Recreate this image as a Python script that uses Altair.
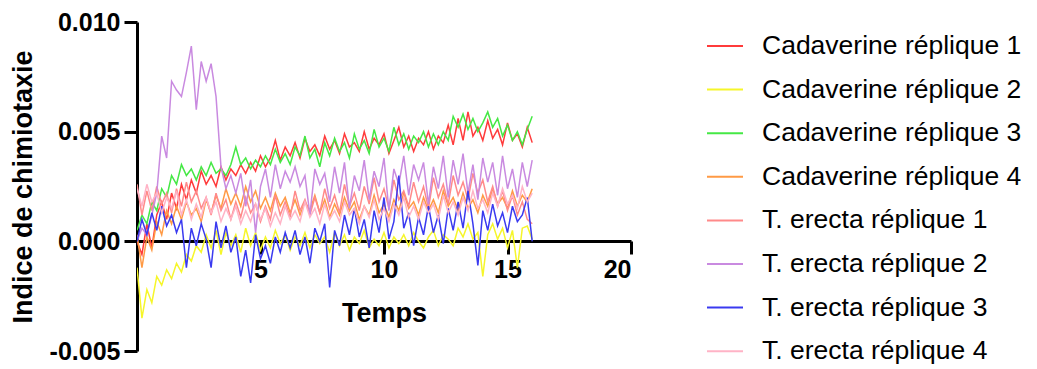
import altair as alt
import pandas as pd

# time grid (minutes, step 0.2)
TIME = [round(i * 0.2, 1) for i in range(81)]

SERIES = [
    "Cadaverine réplique 1",
    "Cadaverine réplique 2",
    "Cadaverine réplique 3",
    "Cadaverine réplique 4",
    "T. erecta réplique 1",
    "T. erecta réplique 2",
    "T. erecta réplique 3",
    "T. erecta réplique 4",
]
COLORS = ["#FF3B3B", "#F6F62A", "#45E845", "#FF9A45",
          "#FF8A8A", "#C98AE0", "#3A3AF0", "#FFB3C6"]

# values in units of 1e-3
CAD1 = [0.0, -0.6, 0.8, -0.3, 1.2, 1.8, 1.0, 2.2, 1.5, 2.6, 1.9, 2.8, 2.2, 3.2, 2.6, 3.0, 2.5, 3.4, 2.8, 3.3,
        3.0, 3.5, 3.1, 3.6, 3.2, 3.9, 3.4, 3.8, 4.6, 3.7, 4.3, 3.9, 4.5, 3.8, 4.7, 4.1, 4.4, 3.9, 4.8, 4.2,
        4.6, 4.0, 4.9, 4.3, 4.5, 4.1, 5.0, 4.2, 4.7, 4.4, 4.9, 4.0, 4.6, 5.2, 4.3, 4.8, 4.1, 4.7, 4.4, 5.0,
        4.2, 4.8, 4.5, 5.3, 4.4, 5.6, 4.6, 5.9, 4.8, 5.2, 4.6, 5.5, 4.7, 5.1, 4.4, 5.4, 4.6, 4.9, 4.3, 5.2, 4.5]
CAD2 = [-1.2, -3.5, -2.2, -2.8, -1.6, -2.0, -1.3, -1.7, -1.0, -1.4, -0.6, -0.9, -0.2, -0.5, 0.3, -0.3, 0.5, -0.6, 0.4, -0.2,
        0.3, -0.5, 0.6, -0.2, 0.4, -0.4, 0.2, -0.3, 0.5, -0.1, 0.3, -0.4, 0.2, -0.2, 0.4, -0.3, 0.3, -0.1, 0.2, -0.5,
        0.4, -0.2, 0.3, -0.4, 0.2, -0.1, 0.5, -0.3, 0.1, -0.2, 0.4, -0.3, 0.2, -0.1, 0.3, -0.2, 0.4, 0.0, -0.3, 0.2,
        0.5, -0.2, 0.3, 0.1, -0.2, 0.6, 0.2, 0.8, 0.1, 0.4, -1.6, 0.3, 0.8, 0.1, 0.6, -0.3, 0.5, -1.2, 0.6, 0.7, 0.1]
CAD3 = [0.5, 1.2, 0.8, 1.8, 1.4, 2.4, 2.0, 3.0, 2.6, 3.5, 3.0, 3.3, 2.8, 3.4, 3.0, 3.6, 3.1, 3.3, 3.0, 3.5,
        4.3, 3.5, 3.8, 3.3, 3.7, 3.4, 3.9, 3.5, 4.2, 3.6, 4.0, 3.5, 4.3, 3.9, 4.8, 3.8, 4.2, 3.4, 4.5, 3.9,
        4.7, 4.1, 4.5, 3.8, 4.9, 4.2, 4.6, 4.0, 5.1, 4.3, 4.7, 4.1, 5.2, 4.4, 4.9, 4.2, 4.8, 4.5, 5.0, 4.3,
        4.9, 4.4, 5.0, 4.6, 5.7, 5.2, 5.8, 5.1, 5.6, 5.0, 5.4, 5.9, 5.2, 5.6, 4.8, 5.3, 4.6, 5.0, 4.4, 5.1, 5.7]
CAD4 = [0.3, -1.2, 0.2, -0.4, 0.9, 0.3, 1.4, 0.8, 1.6, 1.0, 1.8, 1.2, 1.5, 0.9, 1.9, 1.3, 2.1, 1.5, 2.4, 1.7,
        2.2, 1.6, 2.5, 1.8, 2.3, 1.5, 2.0, 1.4, 2.2, 1.6, 2.0, 1.3, 1.9, 1.2, 1.8, 1.4, 2.1, 1.3, 1.9, 1.1,
        1.7, 1.2, 2.0, 1.4, 1.8, 1.0, 1.6, 1.2, 2.1, 1.3, 1.7, 1.1, 1.9, 1.4, 2.2, 1.5, 1.8, 1.2, 2.0, 1.4,
        1.9, 1.3, 2.3, 1.6, 2.0, 1.4, 2.2, 1.5, 1.9, 1.3, 2.1, 1.6, 2.4, 1.7, 2.0, 1.5, 2.3, 1.6, 2.1, 1.8, 2.4]
TE1 = [2.6, 1.2, 2.3, 1.4, 2.5, 1.7, 2.2, 1.3, 2.4, 1.6, 2.7, 1.8, 2.3, 1.5, 2.0, 1.2, 2.2, 1.4, 1.9, 1.0,
       1.8, 1.1, 2.0, 1.3, 1.7, 0.9, 1.6, 1.0, 2.1, 1.2, 1.8, 1.1, 2.3, 1.4, 1.9, 1.2, 2.0, 1.3, 2.4, 1.5,
       2.1, 1.3, 2.6, 1.6, 2.2, 1.4, 2.5, 1.7, 2.9, 1.8, 2.4, 1.5, 2.8, 1.9, 2.3, 1.6, 2.7, 1.8, 2.5, 1.5,
       2.9, 2.0, 2.6, 1.7, 3.0, 2.1, 2.7, 1.9, 3.1, 2.2, 2.8, 1.8, 2.5, 1.6, 2.3, 1.4, 2.1, 1.2, 1.8, 1.0, 0.8]
TE2 = [0.0, 0.6, 0.3, 1.2, 2.2, 4.8, 3.8, 7.3, 6.9, 6.6, 7.7, 8.9, 6.0, 8.2, 7.3, 8.1, 6.6, 3.4, 2.4, 3.0,
       2.2, 3.1, 1.6, 2.8, 0.4, 2.5, 3.3, 2.0, 3.5, 2.4, 3.2, 2.7, 3.4, 2.5, 3.0, 1.2, 3.3, 2.6, 3.1, 1.8,
       3.4, 2.2, 3.6, 1.5, 3.0, 2.3, 3.7, 1.9, 3.2, 2.5, 3.8, 1.4, 3.3, 2.6, 3.9, 2.1, 3.5, 2.8, 3.6, 1.7,
       3.4, 2.4, 3.9, 2.0, 3.7, 2.6, 4.0, 2.2, 3.5, 1.9, 3.8, 2.7, 3.6, 2.1, 3.9, 2.4, 3.3, 2.0, 3.6, 2.5, 3.7]
TE3 = [0.0, 1.0, 0.3, 1.3, 0.5, 1.6, 0.7, 1.2, 0.4, 1.0, -1.2, 0.6, -0.2, 0.8, 0.1, -1.2, 0.9, -0.3, 0.7, -0.5,
       0.2, -1.6, -0.4, -1.9, 0.3, -0.8, -0.2, -1.0, 0.2, -0.5, 0.4, -0.3, 0.5, -0.6, 0.2, -1.0, 0.6, 0.0, 0.8, -2.1,
       0.5, -0.2, 1.2, 0.3, 1.5, 0.2, 1.0, -0.3, 1.4, 0.4, 2.0, 0.1, 0.9, 3.0, 0.6, 1.3, -0.2, 1.1, 0.3, 1.6,
       0.4, 1.2, -0.1, 1.5, 0.5, 1.8, 0.6, 2.3, 0.8, -1.1, 1.4, 0.5, 1.7, 0.7, 1.3, 0.4, 1.6, 0.9, 1.2, 2.0, 0.0]
TE4 = [2.4, 1.6, 2.6, 1.8, 2.2, 1.3, 2.0, 1.5, 2.3, 1.2, 1.9, 1.0, 1.7, 1.1, 2.0, 1.3, 1.8, 0.9, 1.5, 1.0,
       1.6, 0.8, 1.4, 0.9, 1.7, 1.0, 1.5, 0.7, 1.3, 0.8, 1.6, 1.0, 1.4, 0.9, 1.8, 1.1, 1.5, 0.8, 1.7, 1.0,
       1.4, 0.9, 1.8, 1.2, 1.5, 0.8, 1.6, 1.1, 1.9, 1.0, 1.5, 0.9, 1.7, 1.2, 2.0, 1.1, 1.6, 1.0, 1.8, 1.3,
       1.7, 1.0, 2.1, 1.3, 1.8, 1.2, 2.0, 1.4, 2.3, 1.5, 1.9, 1.3, 2.2, 1.6, 2.4, 1.7, 2.1, 1.5, 2.5, 1.8, 2.2]

VALUES = [CAD1, CAD2, CAD3, CAD4, TE1, TE2, TE3, TE4]

rows = []
for name, vals in zip(SERIES, VALUES):
    for t, v in zip(TIME, vals):
        rows.append({"Temps": t, "Indice": v / 1000.0, "Série": name})
df = pd.DataFrame(rows)

FONT = "Liberation Sans"

chart = alt.Chart(df).mark_line(strokeWidth=1.5, clip=True).encode(
    x=alt.X("Temps:Q",
            scale=alt.Scale(domain=[0, 20], nice=False, zero=False),
            axis=alt.Axis(title="Temps", values=[5, 10, 15, 20], offset=-110,
                          grid=False, domainColor="black", domainWidth=3,
                          tickColor="black", tickWidth=3, tickSize=13,
                          labelFont=FONT, labelFontSize=25, labelFontWeight="bold",
                          labelColor="black", labelPadding=3,
                          titleFont=FONT, titleFontSize=27, titleFontWeight="bold",
                          titleColor="black", titlePadding=18)),
    y=alt.Y("Indice:Q",
            scale=alt.Scale(domain=[-0.005, 0.010], nice=False, zero=False),
            axis=alt.Axis(title="Indice de chimiotaxie",
                          values=[-0.005, 0.0, 0.005, 0.010],
                          labelExpr="replace(format(datum.value, '.3f'), '\u2212', '-')",
                          grid=False, domainColor="black", domainWidth=3,
                          tickColor="black", tickWidth=3, tickSize=13,
                          labelFont=FONT, labelFontSize=25, labelFontWeight="bold",
                          labelColor="black", labelPadding=4,
                          titleFont=FONT, titleFontSize=27, titleFontWeight="bold",
                          titleColor="black", titlePadding=12)),
    color=alt.Color("Série:N",
                    scale=alt.Scale(domain=SERIES, range=COLORS),
                    sort=SERIES,
                    legend=alt.Legend(title=None, orient="none", legendX=569, legendY=5,
                                      symbolType="stroke", symbolSize=1296,
                                      symbolStrokeWidth=2, labelFont=FONT,
                                      labelFontSize=26.5, labelColor="black", labelLimit=0,
                                      labelOffset=18, rowPadding=10.6)),
    detail="Série:N",
).properties(
    width=494, height=329,
    background="white",
    autosize=alt.AutoSizeParams(type="none"),
    padding={"left": 129, "top": 14, "right": 390, "bottom": 18},
).configure_view(stroke=None)

chart.save("out.html", embed_options={"renderer": "svg", "actions": False})
